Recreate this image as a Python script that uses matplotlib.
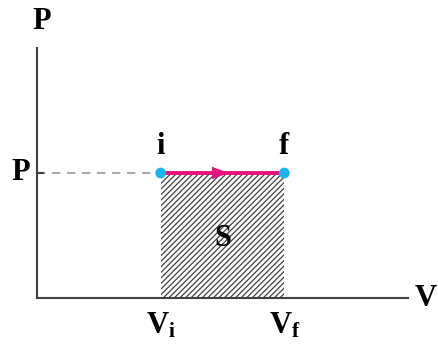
import matplotlib
matplotlib.use("Agg")
import matplotlib.pyplot as plt
from matplotlib.patches import Rectangle, FancyArrowPatch

# state values (arbitrary units)
V_i = 1.0
V_f = 2.0
P_const = 1.0
V_max = 3.0
P_max = 2.0

point_labels = ["i", "f"]
axis_labels = ["V", "P"]

LINE_GRAY = "#404040"
PINK = "#e5127d"
CYAN = "#1eb3ea"

plt.rcParams["font.family"] = ["Liberation Serif", "DejaVu Serif"]
plt.rcParams["font.weight"] = "bold"
plt.rcParams["mathtext.fontset"] = "custom"
plt.rcParams["mathtext.bf"] = "Liberation Serif:bold"
plt.rcParams["mathtext.rm"] = "Liberation Serif:bold"
plt.rcParams["hatch.color"] = LINE_GRAY
plt.rcParams["hatch.linewidth"] = 0.9

W, H = 438, 347
fig = plt.figure(figsize=(W / 100, H / 100), dpi=100)
ax = fig.add_axes([37 / W, (H - 298) / H, (408 - 37) / W, (298 - 48) / H])
ax.set_xlim(0, V_max)
ax.set_ylim(0, P_max)
for side in ("top", "right"):
    ax.spines[side].set_visible(False)
for side in ("left", "bottom"):
    ax.spines[side].set_color(LINE_GRAY)
    ax.spines[side].set_linewidth(1.5)
ax.set_xticks([])
ax.set_yticks([])
ax.patch.set_alpha(0)

# work area under the isobaric step
ax.add_patch(Rectangle((V_i, 0), V_f - V_i, P_const, facecolor="white",
                       edgecolor=LINE_GRAY, linewidth=0, hatch="//////", zorder=1))

# pressure guide line and tick
ax.plot([0, V_i], [P_const, P_const], linestyle=(0, (5, 4)), color="#9a9a9a",
        linewidth=1.2, zorder=2)
ax.plot([0, 0.05], [P_const, P_const], color=LINE_GRAY, linewidth=1.5, zorder=2,
        clip_on=False)

# process line i -> f
ax.plot([V_i, V_f], [P_const, P_const], color=PINK, linewidth=2.8, zorder=3,
        solid_capstyle="butt")
mid = (V_i + V_f) / 2
ax.add_patch(FancyArrowPatch((mid - 0.1, P_const), (mid + 0.05, P_const),
                             arrowstyle="-|>,head_length=12,head_width=4.5",
                             color=PINK, linewidth=0, zorder=4,
                             shrinkA=0, shrinkB=0))
ax.scatter([V_i, V_f], [P_const, P_const], s=60, color=CYAN, zorder=5,
           clip_on=False, edgecolors="none")

fs = 22
ax.text(V_i, P_const + 0.1, point_labels[0], ha="center", va="bottom", fontsize=fs)
ax.text(V_f, P_const + 0.1, point_labels[1], ha="center", va="bottom", fontsize=fs)
ax.text(mid, P_const / 2 - 0.02, "S", ha="center", va="center", fontsize=fs)

ax.text(V_i, -0.1, r"$\mathbf{V_i}$", ha="center", va="top", fontsize=fs)
ax.text(V_f, -0.1, r"$\mathbf{V_f}$", ha="center", va="top", fontsize=fs)
ax.text(-0.13, P_const, "P", ha="center", va="center", fontsize=fs)
ax.text(0.04, P_max + 0.21, axis_labels[1], ha="center", va="center", fontsize=fs)
ax.text(V_max + 0.14, 0, axis_labels[0], ha="center", va="center", fontsize=fs)

fig.savefig("out.png", dpi=100)
